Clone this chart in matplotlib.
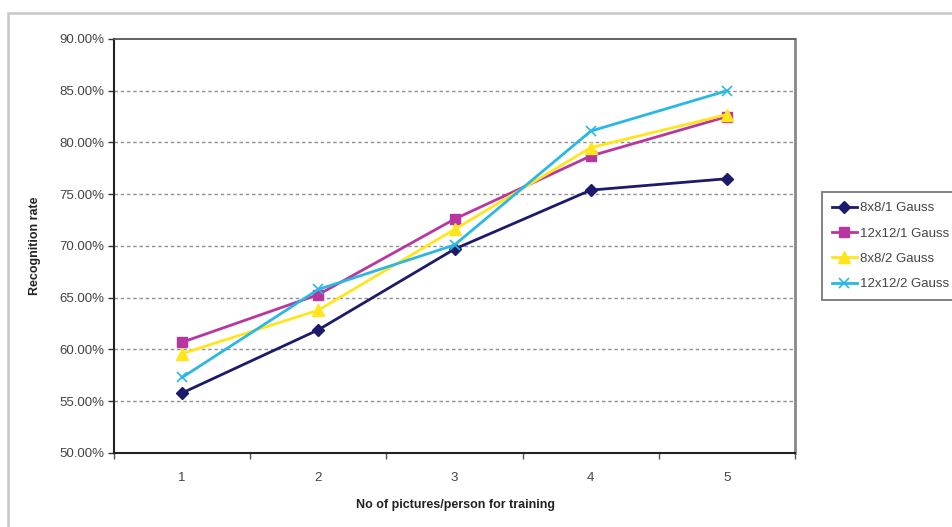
import matplotlib
matplotlib.use("Agg")
import matplotlib.pyplot as plt
from matplotlib.patches import Rectangle
from matplotlib.ticker import FixedLocator, FuncFormatter

plt.rcParams['font.family'] = ['Liberation Sans', 'DejaVu Sans']

categories = ["1", "2", "3", "4", "5"]
series_names = ["8x8/1 Gauss", "12x12/1 Gauss", "8x8/2 Gauss", "12x12/2 Gauss"]
s_8x8_1 = [55.8, 61.9, 69.7, 75.4, 76.5]
s_12x12_1 = [60.7, 65.3, 72.6, 78.7, 82.5]
s_8x8_2 = [59.6, 63.8, 71.6, 79.5, 82.7]
s_12x12_2 = [57.3, 65.8, 70.1, 81.1, 85.0]
y_ticks = [50, 55, 60, 65, 70, 75, 80, 85, 90]

W, H = 952, 527
fig = plt.figure(figsize=(W / 100, H / 100), dpi=100)
fig.patch.set_facecolor('white')

# outer chart frame
fig.patches.append(Rectangle((8 / W, -0.05), 1.1, 1 - 13 / H + 0.05, transform=fig.transFigure,
                             fill=False, edgecolor='#c8c8c8', linewidth=1.8, zorder=0))

left, right, top, bottom = 114, 795, 39, 453
ax = fig.add_axes([left / W, 1 - bottom / H, (right - left) / W, (bottom - top) / H])

x = list(range(1, len(categories) + 1))
styles = [
    dict(color='#1c1a6b', marker='D', markersize=6.5),
    dict(color='#b8369f', marker='s', markersize=7),
    dict(color='#ffe51a', marker='^', markersize=8),
    dict(color='#2ab7e4', marker='x', markersize=7, markeredgewidth=1.2),
]
data = [s_8x8_1, s_12x12_1, s_8x8_2, s_12x12_2]
for vals, name, st in zip(data, series_names, styles):
    ax.plot(x, vals, label=name, linewidth=2.0, zorder=3, **st)

ax.set_xlim(0.5, len(categories) + 0.5)
ax.set_ylim(50, 90)
ax.set_xticks(x)
ax.set_xticklabels(categories)
ax.xaxis.set_minor_locator(FixedLocator([i + 0.5 for i in range(0, len(categories) + 1)]))
ax.tick_params(axis='x', which='major', length=0, pad=14, labelsize=9.5, labelcolor='#444444')
ax.tick_params(axis='x', which='minor', length=4, width=1, color='#555555', direction='out')
ax.set_yticks(y_ticks)
ax.yaxis.set_major_formatter(FuncFormatter(lambda v, p: f"{v:.2f}%"))
ax.tick_params(axis='y', length=4, width=1, color='#333333', direction='out', labelsize=9.5,
               labelcolor='#444444', pad=3)

for yv in y_ticks[1:-1]:
    ax.axhline(yv, color='#909090', linestyle=(0, (2.5, 2)), linewidth=1.0, zorder=1)

ax.spines['left'].set_color('#222222')
ax.spines['bottom'].set_color('#222222')
ax.spines['left'].set_linewidth(1.5)
ax.spines['bottom'].set_linewidth(1.5)
ax.spines['top'].set_color('#555555')
ax.spines['right'].set_color('#888888')
ax.spines['top'].set_linewidth(1.3)
ax.spines['right'].set_linewidth(2)

fig.text(455 / W, 1 - 505 / H, "No of pictures/person for training", ha='center', va='center',
         fontsize=9, fontweight='bold', color='#222222')
fig.text(35 / W, 1 - 246 / H, "Recognition rate", ha='center', va='center', rotation=90,
         fontsize=9, fontweight='bold', color='#222222')

leg = fig.legend(loc='upper left', bbox_to_anchor=(822 / W, 1 - 192 / H), frameon=True,
                 fancybox=False, edgecolor='#555555', fontsize=9.5, handlelength=1.9,
                 borderaxespad=0, labelspacing=1.0, handletextpad=0.2, borderpad=0.75)
leg.get_frame().set_linewidth(1.3)
for t in leg.get_texts():
    t.set_color('#444444')

fig.savefig('out.png', dpi=100)
